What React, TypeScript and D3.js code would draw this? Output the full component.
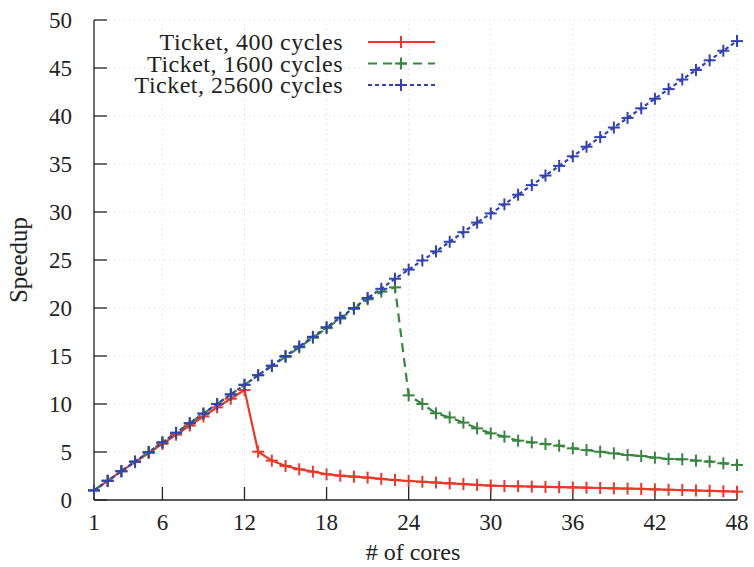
import React from "react";
import * as d3 from "d3";

const cores: number[] = d3.range(1, 49);

const ticket400: number[] = [
  1, 2, 3, 3.95, 4.9, 5.85, 6.8, 7.75, 8.7, 9.65, 10.55, 11.45,
  5.03, 4.1, 3.55, 3.2, 2.95, 2.68, 2.53, 2.43, 2.33, 2.2, 2.08, 1.98,
  1.9, 1.82, 1.74, 1.66, 1.58, 1.5, 1.46, 1.43, 1.4, 1.37, 1.34, 1.31,
  1.28, 1.25, 1.22, 1.19, 1.15, 1.11, 1.07, 1.03, 0.99, 0.95, 0.91, 0.87,
];

const ticket1600: number[] = [
  1, 2, 3, 4, 5, 6, 7, 8, 9, 10, 11, 12,
  13, 13.95, 14.9, 15.9, 16.9, 17.9, 18.9, 19.9, 20.9, 21.7, 22.15, 10.9,
  10.0, 9.03, 8.6, 8.06, 7.46, 6.94, 6.6, 6.18, 6.0, 5.83, 5.66, 5.38,
  5.2, 5.03, 4.86, 4.69, 4.58, 4.41, 4.27, 4.24, 4.1, 4.0, 3.82, 3.65,
];

const ticket25600: number[] = [
  1.0, 2.0, 3.0, 4.0, 5.0, 6.0, 7.0, 8.0, 9.0, 10.0, 11.0, 12.0,
  13.0, 14.0, 15.0, 16.0, 17.0, 18.0, 19.0, 20.0, 21.05, 22.0, 23.05, 24.0,
  24.95, 25.9, 26.9, 27.9, 28.9, 29.85, 30.8, 31.8, 32.8, 33.8, 34.8, 35.8,
  36.8, 37.8, 38.8, 39.8, 40.8, 41.8, 42.8, 43.8, 44.8, 45.8, 46.8, 47.8,
];

const xTicks: number[] = [1, 6, 12, 18, 24, 30, 36, 42, 48];
const yTicks: number[] = [0, 5, 10, 15, 20, 25, 30, 35, 40, 45, 50];

const seriesNames: string[] = [
  "Ticket, 400 cycles",
  "Ticket, 1600 cycles",
  "Ticket, 25600 cycles",
];
const seriesColors: string[] = ["#e8392b", "#3a8541", "#3242b0"];
const seriesDash: string[] = ["none", "9,6", "4,3"];

const W = 754;
const H = 567;
const FONT = "'Liberation Serif', 'Times New Roman', serif";

export default function App() {
  const x = d3.scaleLinear().domain([1, 48]).range([94, 737]);
  const y = d3.scaleLinear().domain([0, 50]).range([500, 20]);
  const seriesData = [ticket400, ticket1600, ticket25600];

  const line = d3
    .line<number>()
    .x((_, i) => x(cores[i]))
    .y((v) => y(v));

  const plus = (cx: number, cy: number, color: string, key: string) => (
    <g key={key} stroke={color} strokeWidth={2}>
      <line x1={cx - 6} x2={cx + 6} y1={cy} y2={cy} />
      <line x1={cx} x2={cx} y1={cy - 6} y2={cy + 6} />
    </g>
  );

  return (
    <svg
      width={W}
      height={H}
      style={{ position: "absolute", left: 0, top: 0, background: "#fff" }}
      fontFamily={FONT}
    >
      {/* grid */}
      <g stroke="#d8d8d8" strokeWidth={1} strokeDasharray="1,4">
        {yTicks.slice(1).map((t) => (
          <line key={"gy" + t} x1={x(1)} x2={x(48)} y1={y(t)} y2={y(t)} />
        ))}
        {xTicks.slice(1).map((t) => (
          <line key={"gx" + t} x1={x(t)} x2={x(t)} y1={y(0)} y2={y(50)} />
        ))}
      </g>

      {/* axes */}
      <g stroke="#222" strokeWidth={1.3}>
        <line x1={x(1)} x2={x(1)} y1={y(0)} y2={y(50)} />
        <line x1={x(1)} x2={x(48)} y1={y(0)} y2={y(0)} />
        {yTicks.map((t) => (
          <line key={"ty" + t} x1={x(1)} x2={x(1) + 13} y1={y(t)} y2={y(t)} />
        ))}
        {xTicks.map((t) => (
          <line key={"tx" + t} x1={x(t)} x2={x(t)} y1={y(0)} y2={y(0) - 13} />
        ))}
      </g>

      {/* tick labels */}
      <g fill="#222" fontSize={23}>
        {yTicks.map((t) => (
          <text key={"ly" + t} x={72} y={y(t)} dy="0.35em" textAnchor="end">
            {t}
          </text>
        ))}
        {xTicks.map((t) => (
          <text key={"lx" + t} x={x(t)} y={530} textAnchor="middle">
            {t}
          </text>
        ))}
      </g>

      {/* axis titles */}
      <text x={413} y={560} fontSize={24} textAnchor="middle" fill="#222">
        # of cores
      </text>
      <text
        transform={`translate(27,260) rotate(-90)`}
        fontSize={25}
        textAnchor="middle"
        fill="#222"
      >
        Speedup
      </text>

      {/* series lines */}
      {seriesData.map((s, si) => (
        <path
          key={"p" + si}
          d={line(s) || ""}
          fill="none"
          stroke={seriesColors[si]}
          strokeWidth={2.2}
          strokeDasharray={seriesDash[si]}
        />
      ))}
      {seriesData.map((s, si) => (
        <g key={"m" + si}>
          {s.map((v, i) =>
            plus(x(cores[i]), y(v), seriesColors[si], `m${si}-${i}`)
          )}
        </g>
      ))}

      {/* legend */}
      {seriesNames.map((name, i) => {
        const ly = 42 + i * 21.5;
        return (
          <g key={"leg" + i}>
            <text
              x={343}
              y={ly}
              dy="0.35em"
              textAnchor="end"
              fontSize={24}
              letterSpacing={0.5}
              fill="#222"
            >
              {name}
            </text>
            <line
              x1={368}
              x2={435}
              y1={ly}
              y2={ly}
              stroke={seriesColors[i]}
              strokeWidth={2.2}
              strokeDasharray={seriesDash[i]}
            />
            {plus(401, ly, seriesColors[i], "lp" + i)}
          </g>
        );
      })}
    </svg>
  );
}
